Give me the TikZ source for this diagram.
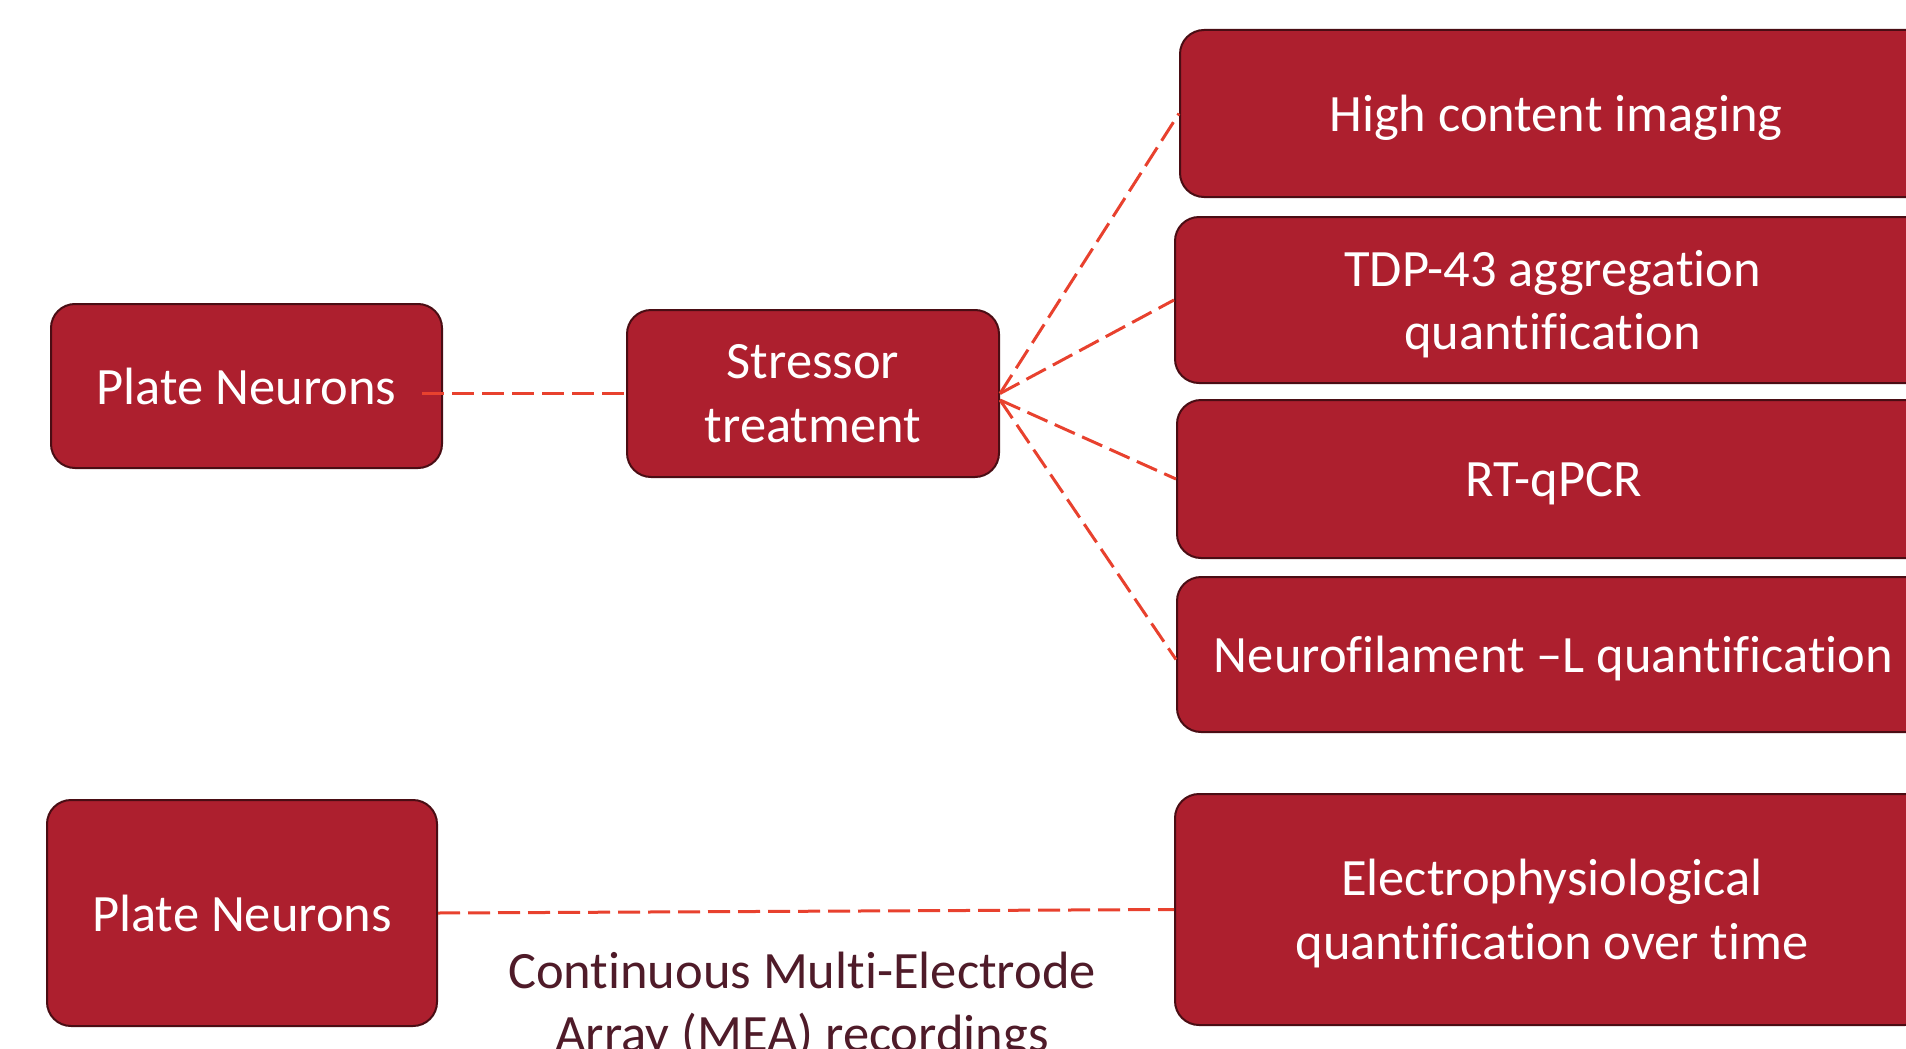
\documentclass[tikz,border=0pt]{standalone}
\usepackage{fontspec}
\setmainfont{Carlito}[Ligatures=NoCommon]
\definecolor{boxred}{HTML}{AD1F2E}
\definecolor{boxedge}{HTML}{4A0D14}
\definecolor{linkred}{HTML}{E8412E}
\definecolor{notetext}{HTML}{4F1B29}
\begin{document}
\begin{tikzpicture}[x=1pt,y=-1pt,
  stage/.style={rectangle, rounded corners=24pt, fill=boxred, draw=boxedge,
    line width=2pt, text=white, align=center, inner sep=0pt, text depth=0pt,
    font=\fontsize{52.5}{63.5}\selectfont},
  link/.style={draw=linkred, line width=3pt, dash pattern=on 22pt off 8pt}]
\useasboundingbox (0,0) rectangle (1906,1049);

% first workflow
\node[stage, minimum width=391pt, minimum height=164pt] (p1) at (246.5,386) {Plate Neurons};
\node[stage, minimum width=372pt, minimum height=167pt] (st) at (813,393.5) {Stressor\\treatment};

% readouts
\node[stage, minimum width=752pt, minimum height=167pt] (hci) at (1556,113.5) {High content imaging};
\node[stage, minimum width=755pt, minimum height=166pt] (tdp) at (1552.5,300) {TDP-43 aggregation\\quantification};
\node[stage, minimum width=753pt, minimum height=158pt] (rt) at (1553.5,479) {RT-qPCR};
\node[stage, minimum width=753pt, minimum height=155pt] (nf) at (1553.5,654.5) {Neurofilament --L quantification};

% second workflow
\node[stage, minimum width=390pt, minimum height=226pt] (p2) at (242,913) {Plate Neurons};
\node[stage, minimum width=754pt, minimum height=231pt] (el) at (1552,909.5) {Electrophysiological\\quantification over time};
\node[text=notetext, align=center, inner sep=0pt, text depth=0pt, font=\fontsize{52.5}{63}\selectfont]
  (mea) at (802,1002) {Continuous Multi-Electrode\\Array (MEA) recordings};

% connectors
\coordinate (p1out) at ([xshift=-21pt]p1.east);
\coordinate (stlow) at ([yshift=-6.5pt]st.east);
\draw[link] (p1out |- st.west) -- (st.west);
\draw[link] (st.east) -- (hci.west);
\draw[link] (st.east) -- (tdp.west);
\draw[link] (stlow) -- (rt.west);
\draw[link] (stlow) -- ([yshift=-5pt]nf.west);
\draw[link] (p2.east) -- (el.west);
\end{tikzpicture}
\end{document}
